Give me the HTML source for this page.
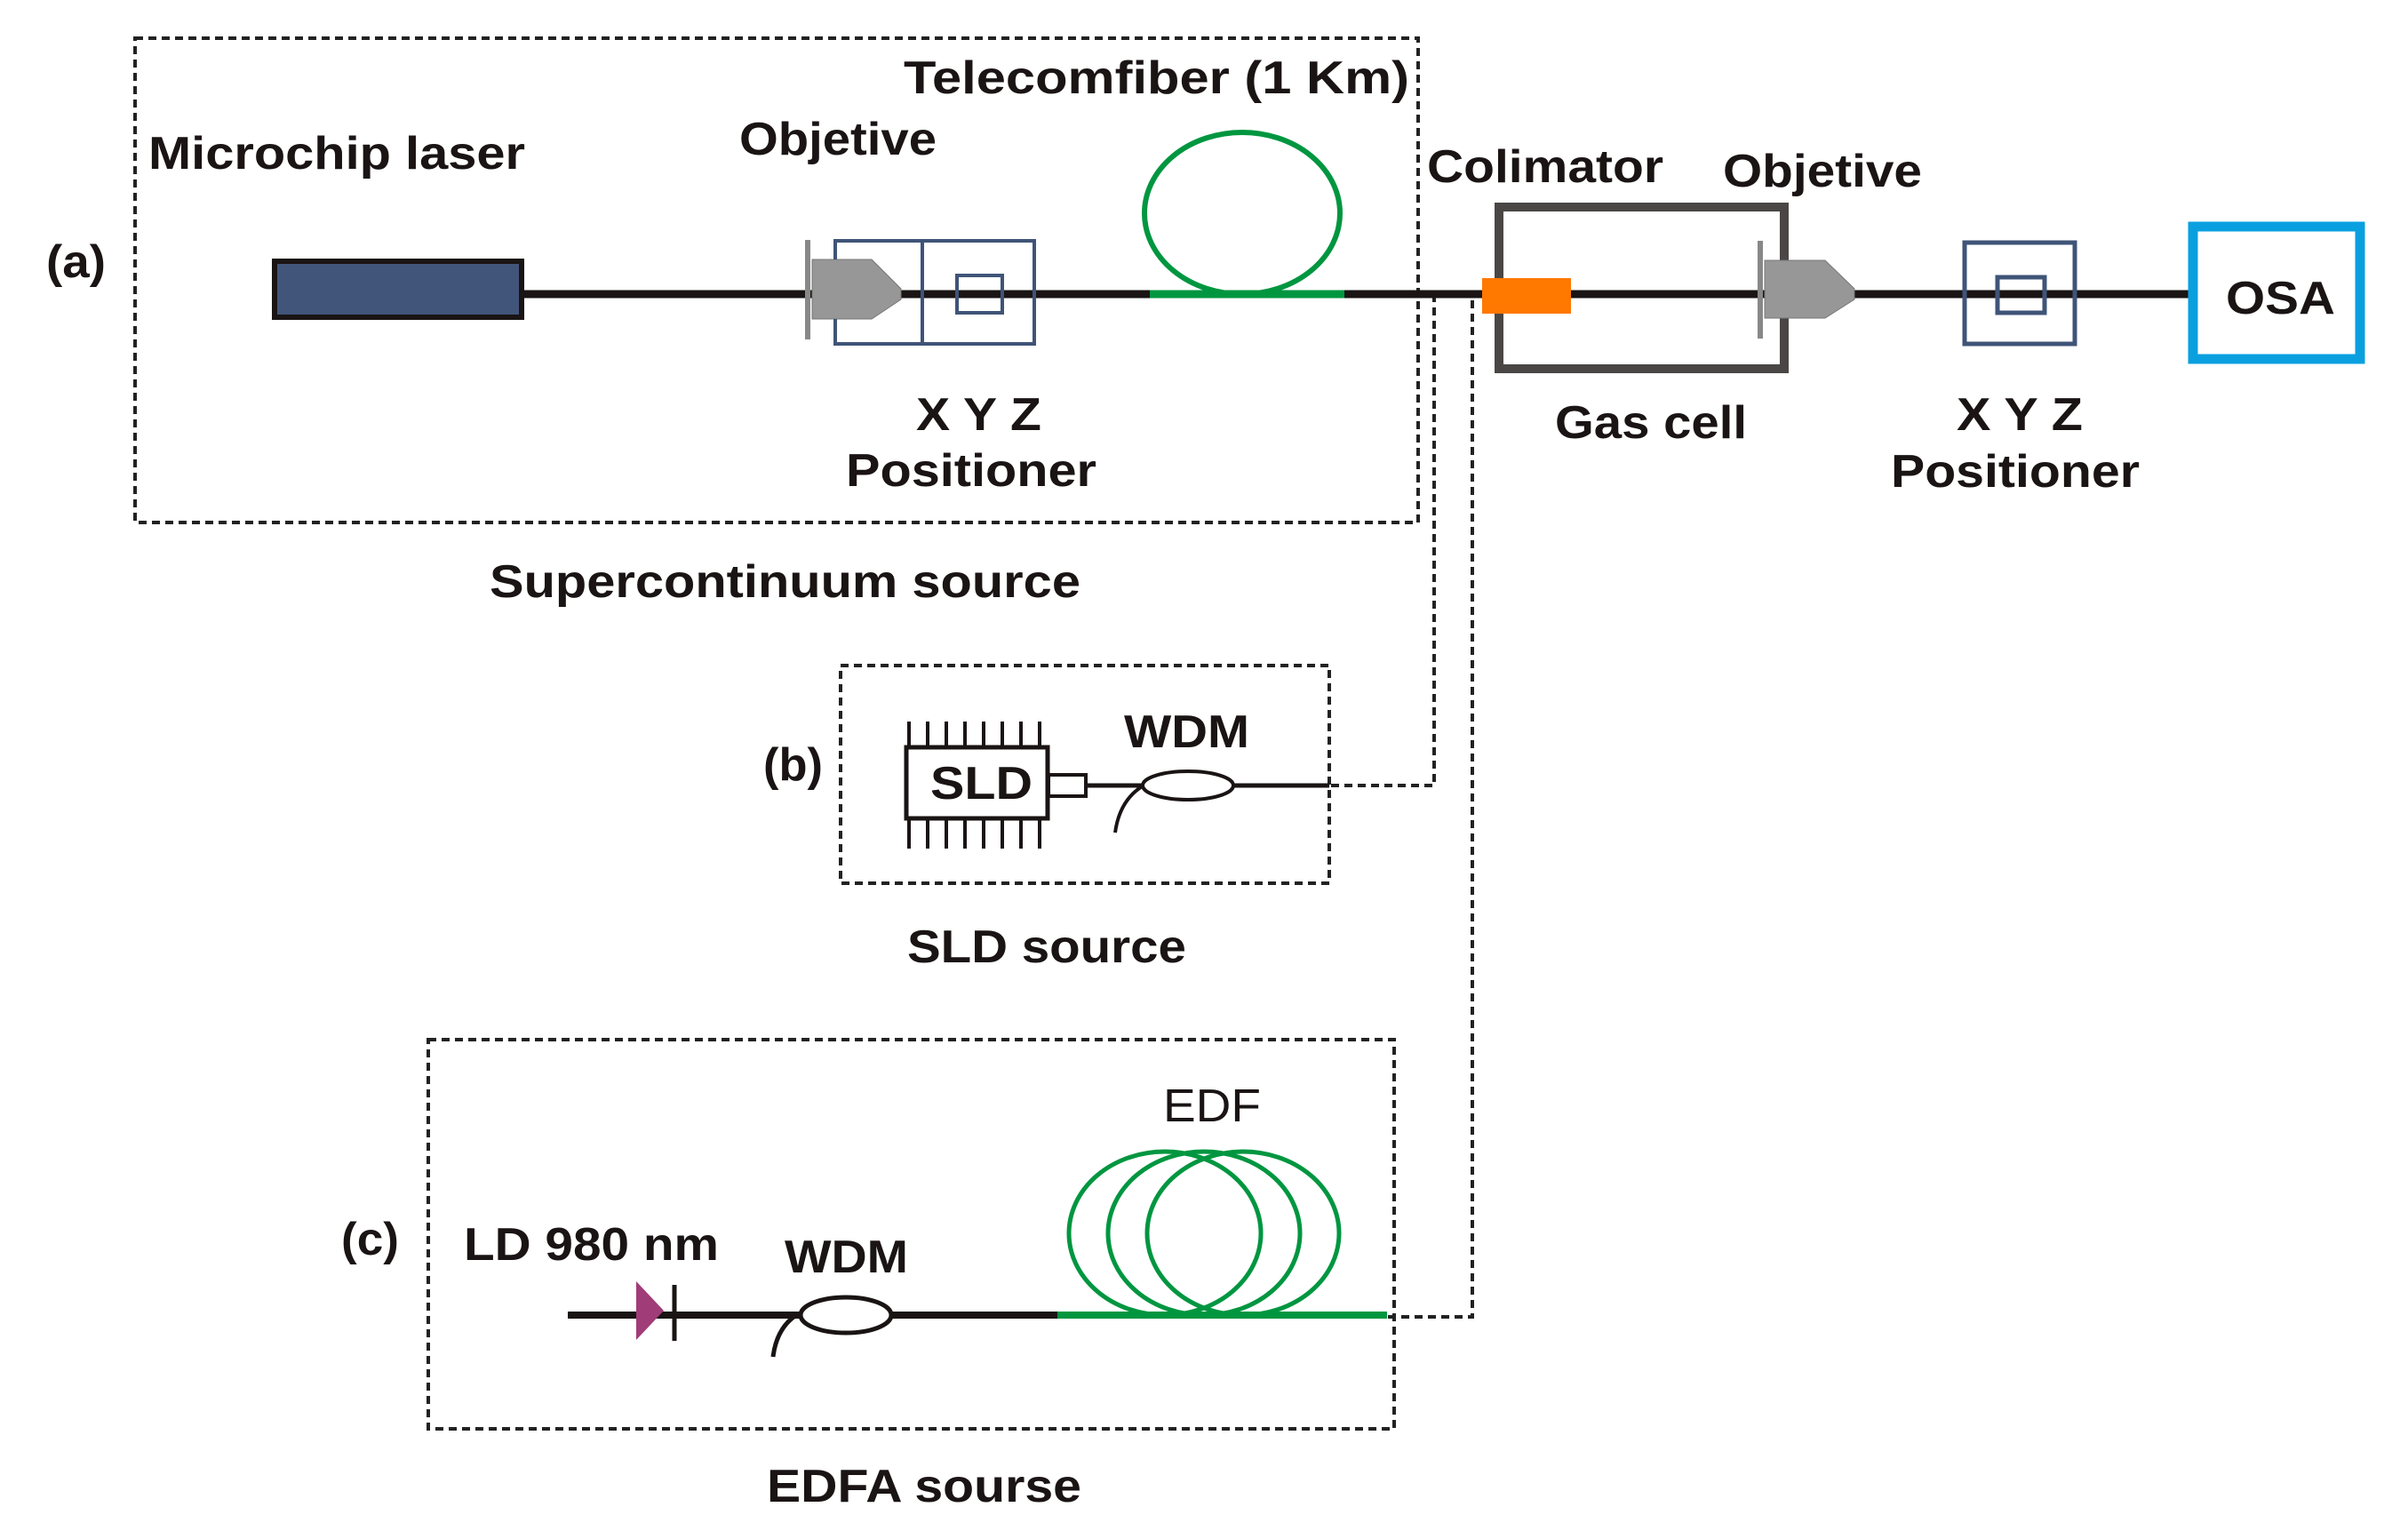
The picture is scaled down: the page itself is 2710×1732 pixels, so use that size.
<!DOCTYPE html>
<html><head><meta charset="utf-8"><style>html,body{margin:0;padding:0;background:#fff}svg{display:block}</style></head>
<body>
<svg width="2710" height="1732" viewBox="0 0 2710 1732" xmlns="http://www.w3.org/2000/svg" font-family="Liberation Sans, Arial, sans-serif">
<g fill="none" stroke="#222" stroke-width="4" stroke-dasharray="9,6">
<rect x="152" y="43" width="1444" height="545"/>
<rect x="946" y="749" width="550" height="245"/>
<rect x="482" y="1170" width="1087" height="438"/>
<polyline points="1614,331 1614,884 1496,884"/>
<polyline points="1657,338 1657,1482 1509,1482"/>
</g>
<!-- main line -->
<line x1="587" y1="331" x2="2465" y2="331" stroke="#1a1414" stroke-width="9"/>
<!-- laser -->
<rect x="309" y="294" width="278" height="63" fill="#41557a" stroke="#1a1414" stroke-width="6"/>
<!-- objective 1 -->
<rect x="906" y="270" width="6" height="112" fill="#888"/>
<polygon points="914,292 981,292 1014,325 1014,337 981,359 914,359" fill="#979797" stroke="#777" stroke-width="1"/>
<!-- xyz1 -->
<g fill="none" stroke="#3f5478" stroke-width="4">
<polyline points="940,292 940,271 1164,271 1164,387 940,387 940,359"/>
<line x1="1038" y1="271" x2="1038" y2="387"/>
<rect x="1077" y="310" width="51" height="42"/>
</g>
<!-- telecom fiber -->
<ellipse cx="1398" cy="240" rx="110" ry="91" fill="none" stroke="#009640" stroke-width="6"/>
<line x1="1294" y1="331" x2="1513" y2="331" stroke="#009640" stroke-width="9"/>
<!-- gas cell -->
<rect x="1687" y="233" width="321" height="182" fill="none" stroke="#4a4646" stroke-width="10"/>
<rect x="1668" y="313" width="100" height="40" fill="#ff7800"/>
<!-- objective 2 -->
<rect x="1978" y="271" width="6" height="110" fill="#888"/>
<polygon points="1986,293 2054,293 2087,325 2087,337 2054,358 1986,358" fill="#979797" stroke="#777" stroke-width="1"/>
<!-- xyz2 -->
<g fill="none" stroke="#3f5478" stroke-width="5">
<rect x="2211" y="273" width="124" height="114"/>
<rect x="2248" y="312" width="53" height="40"/>
</g>
<!-- OSA -->
<rect x="2468" y="255" width="188" height="149" fill="#fff" stroke="#0aa0e0" stroke-width="11"/>
<!-- SLD -->
<g stroke="#1a1414" stroke-width="4" fill="none">
<rect x="1020" y="841" width="159" height="80" stroke-width="5"/>
<rect x="1180" y="872" width="42" height="24"/>
<line x1="1222" y1="884" x2="1496" y2="884" stroke-width="5"/>
<ellipse cx="1337" cy="884" rx="51" ry="16" fill="#fff"/>
<path d="M1287,884 Q1260,900 1255,937"/>
<path d="M1023,812V840M1044,812V840M1065,812V840M1086,812V840M1107,812V840M1128,812V840M1149,812V840M1170,812V840M1023,922V955M1044,922V955M1065,922V955M1086,922V955M1107,922V955M1128,922V955M1149,922V955M1170,922V955"/>
</g>
<!-- EDFA -->
<line x1="639" y1="1480" x2="1190" y2="1480" stroke="#1a1414" stroke-width="8"/>
<g fill="none" stroke="#009640" stroke-width="5">
<ellipse cx="1311" cy="1388" rx="108" ry="92"/>
<ellipse cx="1355" cy="1388" rx="108" ry="92"/>
<ellipse cx="1399" cy="1388" rx="108" ry="92"/>
</g>
<line x1="1190" y1="1480" x2="1561" y2="1480" stroke="#009640" stroke-width="8"/>
<polygon points="716,1442 747,1475 716,1508" fill="#a03c78"/>
<line x1="759" y1="1446" x2="759" y2="1509" stroke="#1a1414" stroke-width="5"/>
<g stroke="#1a1414" stroke-width="5" fill="none">
<ellipse cx="952" cy="1480" rx="51" ry="20" fill="#fff"/>
<path d="M896,1480 Q874,1495 870,1527"/>
</g>
<!-- text -->
<g fill="#1a1414" font-weight="bold" font-size="52" lengthAdjust="spacingAndGlyphs">
<text x="52" y="312" textLength="67" lengthAdjust="spacingAndGlyphs">(a)</text>
<text x="167" y="190" textLength="424" lengthAdjust="spacingAndGlyphs">Microchip laser</text>
<text x="832" y="174" textLength="222" lengthAdjust="spacingAndGlyphs">Objetive</text>
<text x="1017" y="105" textLength="569" lengthAdjust="spacingAndGlyphs">Telecomfiber (1  Km)</text>
<text x="1031" y="484" textLength="141" lengthAdjust="spacingAndGlyphs">X Y Z</text>
<text x="952" y="547" textLength="282" lengthAdjust="spacingAndGlyphs">Positioner</text>
<text x="551" y="672" textLength="665" lengthAdjust="spacingAndGlyphs">Supercontinuum source</text>
<text x="1606" y="205" textLength="266" lengthAdjust="spacingAndGlyphs">Colimator</text>
<text x="1939" y="210" textLength="224" lengthAdjust="spacingAndGlyphs">Objetive</text>
<text x="1750" y="493" textLength="216" lengthAdjust="spacingAndGlyphs">Gas cell</text>
<text x="2202" y="484" textLength="142" lengthAdjust="spacingAndGlyphs">X Y Z</text>
<text x="2128" y="548" textLength="280" lengthAdjust="spacingAndGlyphs">Positioner</text>
<text x="2505" y="353" textLength="123" lengthAdjust="spacingAndGlyphs">OSA</text>
<text x="859" y="878" textLength="67" lengthAdjust="spacingAndGlyphs">(b)</text>
<text x="1047" y="899" textLength="115" lengthAdjust="spacingAndGlyphs">SLD</text>
<text x="1265" y="841" textLength="141" lengthAdjust="spacingAndGlyphs">WDM</text>
<text x="1021" y="1083" textLength="314" lengthAdjust="spacingAndGlyphs">SLD source</text>
<text x="384" y="1412" textLength="65" lengthAdjust="spacingAndGlyphs">(c)</text>
<text x="522" y="1418" textLength="287" lengthAdjust="spacingAndGlyphs">LD 980 nm</text>
<text x="883" y="1432" textLength="139" lengthAdjust="spacingAndGlyphs">WDM</text>
<text x="863" y="1690" textLength="354" lengthAdjust="spacingAndGlyphs">EDFA sourse</text>
<text x="1309" y="1262" font-weight="normal" textLength="110" lengthAdjust="spacingAndGlyphs">EDF</text>
</g>
</svg>
</body></html>
